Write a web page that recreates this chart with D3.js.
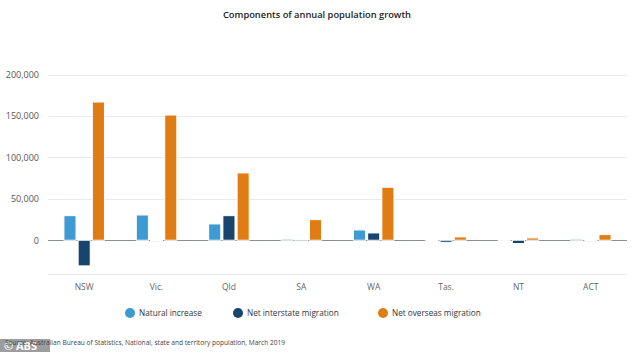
<!DOCTYPE html>
<html>
<head>
<meta charset="utf-8">
<script src="https://cdn.jsdelivr.net/npm/d3@7"></script>
<style>
body { margin: 0; background: #fff; }
text { font-family: "Open Sans", sans-serif; }
</style>
</head>
<body>
<svg id="chart" width="634" height="352"></svg>
<script>
var states = ["NSW", "Vic.", "Qld", "SA", "WA", "Tas.", "NT", "ACT"];
var seriesNames = ["Natural increase", "Net interstate migration", "Net overseas migration"];
var seriesColors = ["#3d9ad3", "#17456e", "#e07c14"];
var natural = [29700, 30500, 19700, 1500, 12400, 300, 1000, 1500];
var interstate = [-31000, -300, 29700, -1500, 8800, -2500, -4000, -1000];
var overseas = [167000, 151300, 81300, 24900, 64000, 4000, 2800, 6800];
var yTicks = [0, 50000, 100000, 150000, 200000];
var series = [natural, interstate, overseas];

var svg = d3.select("#chart");

var y = d3.scaleLinear()
    .domain([-40800, 200000])
    .range([274, 74.7]);

var x0 = d3.scaleBand()
    .domain(states)
    .range([48, 627])
    .paddingInner(0.44)
    .paddingOuter(0.22);

var x1 = d3.scaleBand()
    .domain(d3.range(3))
    .range([0, x0.bandwidth()])
    .paddingInner(0.15);

svg.append("text")
    .attr("x", 317)
    .attr("y", 18)
    .attr("text-anchor", "middle")
    .attr("font-size", 9.3)
    .attr("font-weight", 600)
    .attr("fill", "#222")
    .text("Components of annual population growth");

// gridlines
svg.append("g")
    .selectAll("line")
    .data(yTicks.concat([y.domain()[0]]))
    .enter().append("line")
    .attr("x1", 48)
    .attr("x2", 627)
    .attr("y1", function(d) { return Math.round(y(d)) + 0.5; })
    .attr("y2", function(d) { return Math.round(y(d)) + 0.5; })
    .attr("stroke", "#e8ebee")
    .attr("stroke-width", 1.2);

var yAxis = svg.append("g")
    .attr("transform", "translate(39,0)")
    .call(d3.axisLeft(y).tickValues(yTicks).tickSize(0).tickFormat(d3.format(",")));
yAxis.select(".domain").remove();
yAxis.selectAll("text")
    .attr("font-family", "Open Sans, sans-serif")
    .attr("font-size", 9)
    .attr("fill", "#555")
    .attr("x", 0);

// zero line
svg.append("line")
    .attr("x1", 48)
    .attr("x2", 627)
    .attr("y1", Math.round(y(0)) + 0.5)
    .attr("y2", Math.round(y(0)) + 0.5)
    .attr("stroke", "#8a8f94")
    .attr("stroke-width", 1);

var groups = svg.append("g")
    .selectAll("g")
    .data(states)
    .enter().append("g")
    .attr("transform", function(d) { return "translate(" + x0(d) + ",0)"; });

groups.selectAll("rect")
    .data(function(d, i) { return series.map(function(s, k) { return {k: k, v: s[i]}; }); })
    .enter().append("rect")
    .attr("x", function(d) { return x1(d.k); })
    .attr("width", x1.bandwidth())
    .attr("y", function(d) { return Math.min(y(d.v), y(0)); })
    .attr("height", function(d) { return Math.max(1, Math.abs(y(d.v) - y(0))); })
    .attr("fill", function(d) { return seriesColors[d.k]; })
    .attr("stroke", "#fff")
    .attr("stroke-width", 1);

svg.append("g")
    .selectAll("text")
    .data(states)
    .enter().append("text")
    .attr("x", function(d) { return x0(d) + x0.bandwidth() / 2; })
    .attr("y", 290)
    .attr("text-anchor", "middle")
    .attr("font-size", 8.5)
    .attr("fill", "#666")
    .text(function(d) { return d; });

// legend
var legX = [130, 238, 383];
var leg = svg.append("g")
    .selectAll("g")
    .data(seriesNames)
    .enter().append("g")
    .attr("transform", function(d, i) { return "translate(" + legX[i] + ",313)"; });
leg.append("circle")
    .attr("r", 5)
    .attr("fill", function(d, i) { return seriesColors[i]; });
leg.append("text")
    .attr("x", 9)
    .attr("y", 3)
    .attr("font-size", 8.2)
    .attr("fill", "#333")
    .text(function(d) { return d; });

// watermark box sits under the source line, as in the photo
svg.append("rect")
    .attr("x", 0)
    .attr("y", 339)
    .attr("width", 50)
    .attr("height", 13)
    .attr("fill", "#8c8c8c")
    .attr("opacity", 0.85);
svg.append("text")
    .attr("x", 4)
    .attr("y", 349.5)
    .attr("font-family", "Liberation Sans, Arial, sans-serif")
    .attr("font-size", 11)
    .attr("font-weight", 700)
    .attr("fill", "#fff")
    .text("© ABS");

svg.append("text")
    .attr("x", 5)
    .attr("y", 345)
    .attr("font-size", 6.6)
    .attr("fill", "#444")
    .text("Source: Australian Bureau of Statistics, National, state and territory population, March 2019");
</script>
</body>
</html>
